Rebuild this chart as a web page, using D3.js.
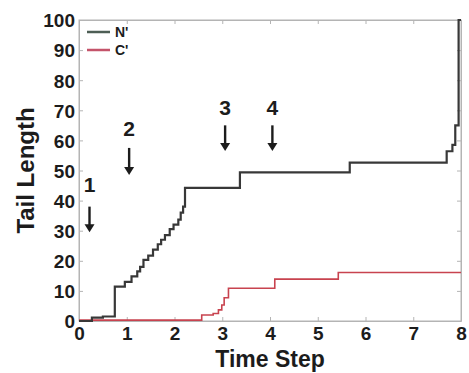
<!DOCTYPE html>
<html>
<head>
<meta charset="utf-8">
<script src="https://cdn.jsdelivr.net/npm/d3@7"></script>
<style>
  body { margin: 0; background: #fff; }
  svg { display: block; font-family: "Liberation Sans", Arial, sans-serif; }
</style>
</head>
<body>
<svg width="469" height="373"></svg>
<script>
// series: [time step, tail length]
const nPrime = [
    [0, 0], [0.27, 1.1], [0.5, 1.5], [0.75, 11.4], [0.96, 13], [1.1, 14.8],
    [1.22, 16.5], [1.28, 18], [1.35, 20.3], [1.45, 21.7], [1.55, 23.7],
    [1.65, 25.5], [1.72, 27], [1.8, 28.5], [1.9, 30.5], [1.98, 32],
    [2.08, 33.7], [2.13, 36], [2.18, 38], [2.22, 44.2], [3.37, 49.4],
    [5.67, 52.6], [7.7, 56.4], [7.82, 58.5], [7.88, 65], [7.95, 100], [8, 100]
];
const cPrime = [
    [0, 0.3], [2.57, 2], [2.81, 2.5], [2.92, 3.7], [2.99, 5.3], [3.04, 7.7],
    [3.13, 10.9], [4.1, 13.9], [5.43, 16.1], [8, 16.1]
];
const seriesNames = ["N'", "C'"];
const xTicks = [0, 1, 2, 3, 4, 5, 6, 7, 8];
const yTicks = [0, 10, 20, 30, 40, 50, 60, 70, 80, 90, 100];

// numbered arrows: label, time step, label value, arrow start/end value
const markLabels = ['1', '2', '3', '4'];
const markT = [0.22, 1.05, 3.06, 4.05];
const markLabelV = [45.5, 64, 71, 71];
const markArrowV = [[38, 29.5], [57.5, 48.5], [65, 56.5], [65, 56.5]];

const marginLeft = 79, marginRight = 8, marginTop = 20, marginBottom = 52;
const width = 469, height = 373;

const x = d3.scaleLinear().domain([0, 8]).range([marginLeft, width - marginRight]);
const y = d3.scaleLinear().domain([0, 100]).range([height - marginBottom, marginTop]);

const svg = d3.select('svg');
const ink = '#1c1c1c';
const frame = '#b4b4b4';

// frame with inward ticks, like the matlab box
svg.append('rect')
    .attr('x', x(0)).attr('y', y(100))
    .attr('width', x(8) - x(0)).attr('height', y(0) - y(100))
    .attr('fill', 'none').attr('stroke', frame).attr('stroke-width', 1);

const xAxis = svg.append('g')
    .attr('transform', `translate(0,${y(0)})`)
    .call(d3.axisBottom(x).tickValues(xTicks).tickSizeInner(-4).tickSizeOuter(0).tickPadding(6));
const yAxis = svg.append('g')
    .attr('transform', `translate(${x(0)},0)`)
    .call(d3.axisLeft(y).tickValues(yTicks).tickSizeInner(-4).tickSizeOuter(0).tickPadding(4));
svg.append('g')
    .attr('transform', `translate(${x(8)},0)`)
    .call(d3.axisRight(y).tickValues(yTicks).tickSizeInner(-4).tickSizeOuter(0).tickFormat(''));
svg.append('g')
    .attr('transform', `translate(0,${y(100)})`)
    .call(d3.axisTop(x).tickValues(xTicks).tickSizeInner(-4).tickSizeOuter(0).tickFormat(''));

svg.selectAll('.domain').attr('stroke', frame);
svg.selectAll('.tick line').attr('stroke', frame);
svg.selectAll('.tick text')
    .attr('fill', ink)
    .attr('font-size', 19)
    .attr('font-weight', 'bold');
yAxis.selectAll('.tick text').attr('dy', '0.36em');
xAxis.selectAll('.tick text').attr('dy', '0.68em');

// axis titles
svg.append('text')
    .attr('x', x(4)).attr('y', 367)
    .attr('text-anchor', 'middle')
    .attr('font-size', 23).attr('font-weight', 'bold').attr('fill', ink)
    .text('Time Step');
svg.append('text')
    .attr('transform', `translate(34,${y(50)}) rotate(-90)`)
    .attr('text-anchor', 'middle')
    .attr('font-size', 24).attr('font-weight', 'bold').attr('fill', ink)
    .text('Tail Length');

// lines
const line = d3.line()
    .x((d) => x(d[0]))
    .y((d) => y(d[1]))
    .curve(d3.curveStepAfter);

svg.append('path')
    .datum(cPrime)
    .attr('fill', 'none')
    .attr('stroke', '#c8434f')
    .attr('stroke-width', 1.6)
    .attr('d', line);
svg.append('path')
    .datum(nPrime)
    .attr('fill', 'none')
    .attr('stroke', '#383838')
    .attr('stroke-width', 2.2)
    .attr('d', line);

// legend
const legendColors = ['#4d5e55', '#c4536a'];
const legend = svg.append('g');
seriesNames.forEach((name, i) => {
    const ly = 32 + i * 18;
    legend.append('line')
        .attr('x1', 87).attr('x2', 110)
        .attr('y1', ly).attr('y2', ly)
        .attr('stroke', legendColors[i]).attr('stroke-width', 2.5);
    legend.append('text')
        .attr('x', 115).attr('y', ly).attr('dy', '0.36em')
        .attr('font-size', 14).attr('font-weight', 'bold').attr('fill', ink)
        .text(name);
});

// numbered arrows
const marks = svg.append('g');
markLabels.forEach((lab, i) => {
    const mx = x(markT[i]);
    marks.append('text')
        .attr('x', mx).attr('y', y(markLabelV[i])).attr('dy', '0.36em')
        .attr('text-anchor', 'middle')
        .attr('font-size', 21).attr('font-weight', 'bold').attr('fill', ink)
        .text(lab);
    const [a, b] = markArrowV[i];
    marks.append('line')
        .attr('x1', mx).attr('x2', mx)
        .attr('y1', y(a)).attr('y2', y(b) - 6)
        .attr('stroke', ink).attr('stroke-width', 2.4);
    marks.append('path')
        .attr('d', `M${mx - 5},${y(b) - 8}L${mx + 5},${y(b) - 8}L${mx},${y(b)}Z`)
        .attr('fill', ink);
});
</script>
</body>
</html>
